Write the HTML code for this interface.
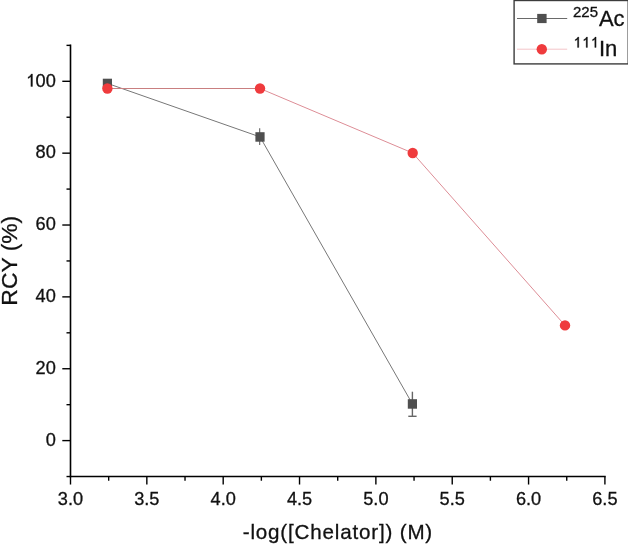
<!DOCTYPE html>
<html><head><meta charset="utf-8"><style>
html,body{margin:0;padding:0;background:#fff;}
body{width:628px;height:545px;overflow:hidden;}
svg{display:block;will-change:transform;}
text{font-family:"Liberation Sans",sans-serif;fill:#111;stroke:#111;stroke-width:0.3px;}
.tk{font-size:18.2px;}
.ttl{font-size:21.5px;}
.lg{font-size:22px;}
.sup{font-size:15px;}
</style></head><body>
<svg width="628" height="545" viewBox="0 0 628 545">
<line x1="70.5" y1="45.370000000000005" x2="70.5" y2="476.53000000000003" stroke="#000" stroke-width="1.6" stroke-linecap="square"/>
<line x1="70.5" y1="476.53000000000003" x2="604.915" y2="476.53000000000003" stroke="#000" stroke-width="1.6" stroke-linecap="square"/>
<line x1="66.50" y1="476.53" x2="70.5" y2="476.53" stroke="#000" stroke-width="1.4"/>
<line x1="62.30" y1="440.60" x2="70.5" y2="440.60" stroke="#000" stroke-width="1.4"/>
<line x1="66.50" y1="404.67" x2="70.5" y2="404.67" stroke="#000" stroke-width="1.4"/>
<line x1="62.30" y1="368.74" x2="70.5" y2="368.74" stroke="#000" stroke-width="1.4"/>
<line x1="66.50" y1="332.81" x2="70.5" y2="332.81" stroke="#000" stroke-width="1.4"/>
<line x1="62.30" y1="296.88" x2="70.5" y2="296.88" stroke="#000" stroke-width="1.4"/>
<line x1="66.50" y1="260.95" x2="70.5" y2="260.95" stroke="#000" stroke-width="1.4"/>
<line x1="62.30" y1="225.02" x2="70.5" y2="225.02" stroke="#000" stroke-width="1.4"/>
<line x1="66.50" y1="189.09" x2="70.5" y2="189.09" stroke="#000" stroke-width="1.4"/>
<line x1="62.30" y1="153.16" x2="70.5" y2="153.16" stroke="#000" stroke-width="1.4"/>
<line x1="66.50" y1="117.23" x2="70.5" y2="117.23" stroke="#000" stroke-width="1.4"/>
<line x1="62.30" y1="81.30" x2="70.5" y2="81.30" stroke="#000" stroke-width="1.4"/>
<line x1="66.50" y1="45.37" x2="70.5" y2="45.37" stroke="#000" stroke-width="1.4"/>
<line x1="70.50" y1="476.53000000000003" x2="70.50" y2="484.53" stroke="#000" stroke-width="1.4"/>
<line x1="108.67" y1="476.53000000000003" x2="108.67" y2="480.73" stroke="#000" stroke-width="1.4"/>
<line x1="146.84" y1="476.53000000000003" x2="146.84" y2="484.53" stroke="#000" stroke-width="1.4"/>
<line x1="185.02" y1="476.53000000000003" x2="185.02" y2="480.73" stroke="#000" stroke-width="1.4"/>
<line x1="223.19" y1="476.53000000000003" x2="223.19" y2="484.53" stroke="#000" stroke-width="1.4"/>
<line x1="261.36" y1="476.53000000000003" x2="261.36" y2="480.73" stroke="#000" stroke-width="1.4"/>
<line x1="299.53" y1="476.53000000000003" x2="299.53" y2="484.53" stroke="#000" stroke-width="1.4"/>
<line x1="337.71" y1="476.53000000000003" x2="337.71" y2="480.73" stroke="#000" stroke-width="1.4"/>
<line x1="375.88" y1="476.53000000000003" x2="375.88" y2="484.53" stroke="#000" stroke-width="1.4"/>
<line x1="414.05" y1="476.53000000000003" x2="414.05" y2="480.73" stroke="#000" stroke-width="1.4"/>
<line x1="452.23" y1="476.53000000000003" x2="452.23" y2="484.53" stroke="#000" stroke-width="1.4"/>
<line x1="490.40" y1="476.53000000000003" x2="490.40" y2="480.73" stroke="#000" stroke-width="1.4"/>
<line x1="528.57" y1="476.53000000000003" x2="528.57" y2="484.53" stroke="#000" stroke-width="1.4"/>
<line x1="566.74" y1="476.53000000000003" x2="566.74" y2="480.73" stroke="#000" stroke-width="1.4"/>
<line x1="604.91" y1="476.53000000000003" x2="604.91" y2="484.53" stroke="#000" stroke-width="1.4"/>
<text x="55.8" y="445.80" text-anchor="end" class="tk">0</text>
<text x="55.8" y="373.94" text-anchor="end" class="tk">20</text>
<text x="55.8" y="302.08" text-anchor="end" class="tk">40</text>
<text x="55.8" y="230.22" text-anchor="end" class="tk">60</text>
<text x="55.8" y="158.36" text-anchor="end" class="tk">80</text>
<path transform="translate(25.43,86.50) scale(0.00889,-0.00889)" d="M795 0H613V1098Q553 1045 463 990Q373 935 298 905V1065Q433 1130 523 1220Q613 1310 658 1409H795Z" fill="#111" stroke="#111" stroke-width="33.8"/>
<text x="35.56" y="86.50" class="tk" style="letter-spacing:0.0px">00</text>
<text x="70.50" y="505.2" text-anchor="middle" class="tk">3.0</text>
<text x="146.84" y="505.2" text-anchor="middle" class="tk">3.5</text>
<text x="223.19" y="505.2" text-anchor="middle" class="tk">4.0</text>
<text x="299.53" y="505.2" text-anchor="middle" class="tk">4.5</text>
<text x="375.88" y="505.2" text-anchor="middle" class="tk">5.0</text>
<text x="452.23" y="505.2" text-anchor="middle" class="tk">5.5</text>
<text x="528.57" y="505.2" text-anchor="middle" class="tk">6.0</text>
<text x="604.91" y="505.2" text-anchor="middle" class="tk">6.5</text>
<text x="337.9" y="538.6" text-anchor="middle" class="ttl" style="font-size:20.6px;letter-spacing:0.82px">-log([Chelator]) (M)</text>
<text transform="translate(16.5,260.7) rotate(-90)" x="0" y="0" text-anchor="middle" class="ttl" style="font-size:22.9px">RCY (%)</text>
<polyline points="107.4,83.4 260.0,136.9 412.4,403.9" fill="none" stroke="#777" stroke-width="1.0"/>
<line x1="259.7" y1="128.2" x2="259.7" y2="145" stroke="#5a5a5a" stroke-width="1.05"/>
<line x1="412.4" y1="391.7" x2="412.4" y2="416.3" stroke="#666" stroke-width="1.4"/>
<line x1="408.3" y1="416.3" x2="416.6" y2="416.3" stroke="#666" stroke-width="1.4"/>
<rect x="102.80" y="78.70" width="9.2" height="9.5" fill="#4f4f4f"/>
<rect x="255.40" y="132.20" width="9.2" height="9.5" fill="#4f4f4f"/>
<rect x="407.80" y="399.20" width="9.2" height="9.5" fill="#4f4f4f"/>
<polyline points="107.4,88.5 260.0,88.5" fill="none" stroke="#c97f80" stroke-width="1.05"/>
<polyline points="260.0,88.5 412.7,153.0 565.0,325.4" fill="none" stroke="#dd8d96" stroke-width="1.0"/>
<circle cx="107.4" cy="88.5" r="5.2" fill="#ef3b3d"/>
<circle cx="260.0" cy="88.5" r="5.2" fill="#ef3b3d"/>
<circle cx="412.7" cy="153.0" r="5.2" fill="#ef3b3d"/>
<circle cx="565.0" cy="325.4" r="5.2" fill="#ef3b3d"/>
<rect x="514.1" y="0.5" width="114.1" height="63.4" fill="#fff" stroke="#3c3c3c" stroke-width="1.4"/>
<line x1="517" y1="18.5" x2="567.2" y2="18.5" stroke="#6a6a6a" stroke-width="1.05"/>
<rect x="537.2" y="13.9" width="9.4" height="9.2" fill="#4f4f4f"/>
<line x1="517" y1="49.2" x2="567.2" y2="49.2" stroke="#f3c4c8" stroke-width="1.0"/>
<circle cx="541.8" cy="49.2" r="5.2" fill="#ef3b3d"/>
<text x="573.0" y="16.6" class="sup">225</text>
<text x="598.9" y="25.7" class="lg">Ac</text>
<path transform="translate(573.00,47.40) scale(0.00732,-0.00732)" d="M795 0H613V1098Q553 1045 463 990Q373 935 298 905V1065Q433 1130 523 1220Q613 1310 658 1409H795Z" fill="#111" stroke="#111" stroke-width="41.0"/>
<path transform="translate(581.64,47.40) scale(0.00732,-0.00732)" d="M795 0H613V1098Q553 1045 463 990Q373 935 298 905V1065Q433 1130 523 1220Q613 1310 658 1409H795Z" fill="#111" stroke="#111" stroke-width="41.0"/>
<path transform="translate(590.28,47.40) scale(0.00732,-0.00732)" d="M795 0H613V1098Q553 1045 463 990Q373 935 298 905V1065Q433 1130 523 1220Q613 1310 658 1409H795Z" fill="#111" stroke="#111" stroke-width="41.0"/>
<text x="599.0" y="56.4" class="lg">In</text>
</svg>
</body></html>
